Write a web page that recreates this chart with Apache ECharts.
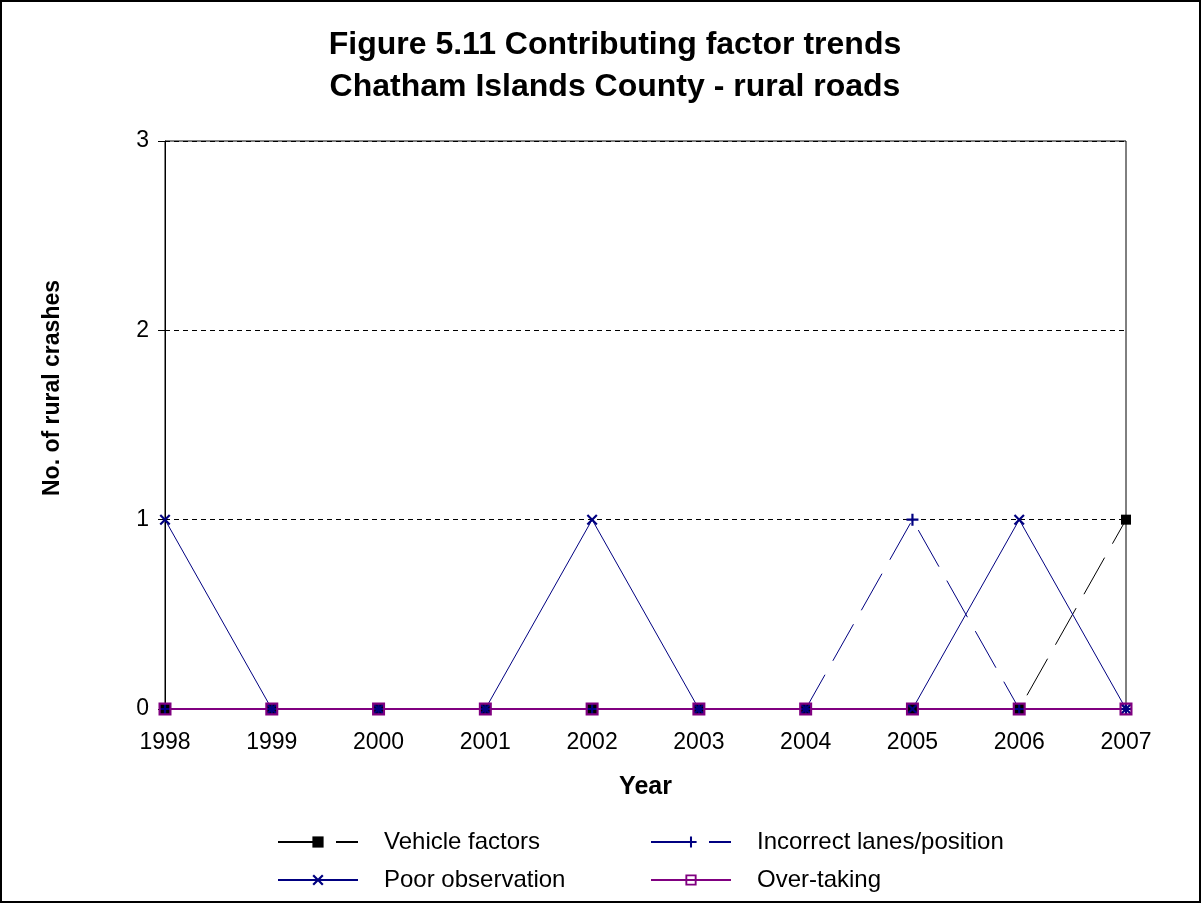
<!DOCTYPE html>
<html>
<head>
<meta charset="utf-8">
<script src="https://cdn.jsdelivr.net/npm/echarts@6/dist/echarts.min.js"></script>
<style>
html,body{margin:0;padding:0;background:#fff;}
#chart{width:1202px;height:904px;}
</style>
</head>
<body>
<div id="chart"></div>
<script>
var years = ['1998','1999','2000','2001','2002','2003','2004','2005','2006','2007'];
var vehicleFactors = [0,0,0,0,0,0,0,0,0,1];
var incorrectLanes = [0,0,0,0,0,0,0,1,0,0];
var poorObservation = [1,0,0,0,1,0,0,0,1,0];
var overTaking = [0,0,0,0,0,0,0,0,0,0];
var seriesNames = ['Vehicle factors','Incorrect lanes/position','Poor observation','Over-taking'];
var yTicks = [0,1,2,3];

var FONT = "'Liberation Sans', Arial, sans-serif";
var plusPath = 'path://M4.5,0H6.5V4.5H11V6.5H6.5V11H4.5V6.5H0V4.5H4.5Z';
var crossPath = 'path://M0,1.4L1.4,0L5,3.6L8.6,0L10,1.4L6.4,5L10,8.6L8.6,10L5,6.4L1.4,10L0,8.6L3.6,5Z';
var hollowRect = 'path://M0,0H12V12H0Z M2,2V10H10V2Z';

function legendAt(name, left, top) {
  return {
    data: [name], left: left, top: top, orient: 'horizontal', padding: 0,
    itemWidth: 80, itemHeight: 14,
    textStyle: {fontFamily: FONT, fontSize: 24, color: '#000', padding: [0,0,0,21]}
  };
}

var chart = echarts.init(document.getElementById('chart'), null, {renderer: 'canvas'});
chart.setOption({
  backgroundColor: '#fff',
  animation: false,
  title: {
    text: 'Figure 5.11 Contributing factor trends\nChatham Islands County - rural roads',
    left: 615, top: 24, textAlign: 'center', padding: 0,
    textStyle: {fontFamily: FONT, fontSize: 32, fontWeight: 'bold', color: '#000', lineHeight: 42}
  },
  graphic: [{
    type: 'rect', silent: true, z: 100,
    shape: {x: 1, y: 1, width: 1199, height: 901},
    style: {fill: 'none', stroke: '#000', lineWidth: 2}
  }],
  legend: [
    legendAt(seriesNames[0], 277, 830),
    legendAt(seriesNames[1], 650, 830),
    legendAt(seriesNames[2], 277, 868),
    legendAt(seriesNames[3], 650, 868)
  ],
  grid: {left: 165, right: 76, top: 141, bottom: 195, show: true, borderColor: '#000', borderWidth: 1, backgroundColor: 'transparent'},
  xAxis: {
    type: 'category', data: years, boundaryGap: false,
    name: 'Year', nameLocation: 'middle', nameGap: 66,
    nameTextStyle: {fontFamily: FONT, fontSize: 25, fontWeight: 'bold', color: '#000'},
    axisLine: {lineStyle: {color: '#000', width: 1}},
    axisTick: {show: false},
    axisLabel: {fontFamily: FONT, fontSize: 23, color: '#000', margin: 22},
    splitLine: {show: false}
  },
  yAxis: {
    type: 'value', min: yTicks[0], max: yTicks[yTicks.length-1], interval: 1,
    name: 'No. of rural crashes', nameLocation: 'middle', nameGap: 101, nameRotate: 90,
    nameTextStyle: {fontFamily: FONT, fontSize: 23, fontWeight: 'bold', color: '#000', padding: [0,0,0,74]},
    axisLine: {show: true, lineStyle: {color: '#000', width: 1}},
    axisTick: {show: true, length: 7, lineStyle: {color: '#000'}},
    axisLabel: {fontFamily: FONT, fontSize: 23, color: '#000', margin: 16},
    splitLine: {show: true, lineStyle: {color: '#000', type: [5,4], width: 1}}
  },
  series: [
    {
      name: seriesNames[0], type: 'line', data: vehicleFactors,
      symbol: 'rect', symbolSize: 10,
      itemStyle: {color: '#000'},
      lineStyle: {color: '#000', width: 1, type: [42,16]}
    },
    {
      name: seriesNames[1], type: 'line', data: incorrectLanes,
      symbol: plusPath, symbolSize: 12,
      itemStyle: {color: '#000080'},
      lineStyle: {color: '#000080', width: 1, type: [42,16]}
    },
    {
      name: seriesNames[2], type: 'line', data: poorObservation,
      symbol: crossPath, symbolSize: 11,
      itemStyle: {color: '#000080'},
      lineStyle: {color: '#000080', width: 1}
    },
    {
      name: seriesNames[3], type: 'line', data: overTaking,
      symbol: hollowRect, symbolSize: 13,
      itemStyle: {color: '#800080'},
      lineStyle: {color: '#800080', width: 2}
    }
  ]
});
</script>
</body>
</html>
